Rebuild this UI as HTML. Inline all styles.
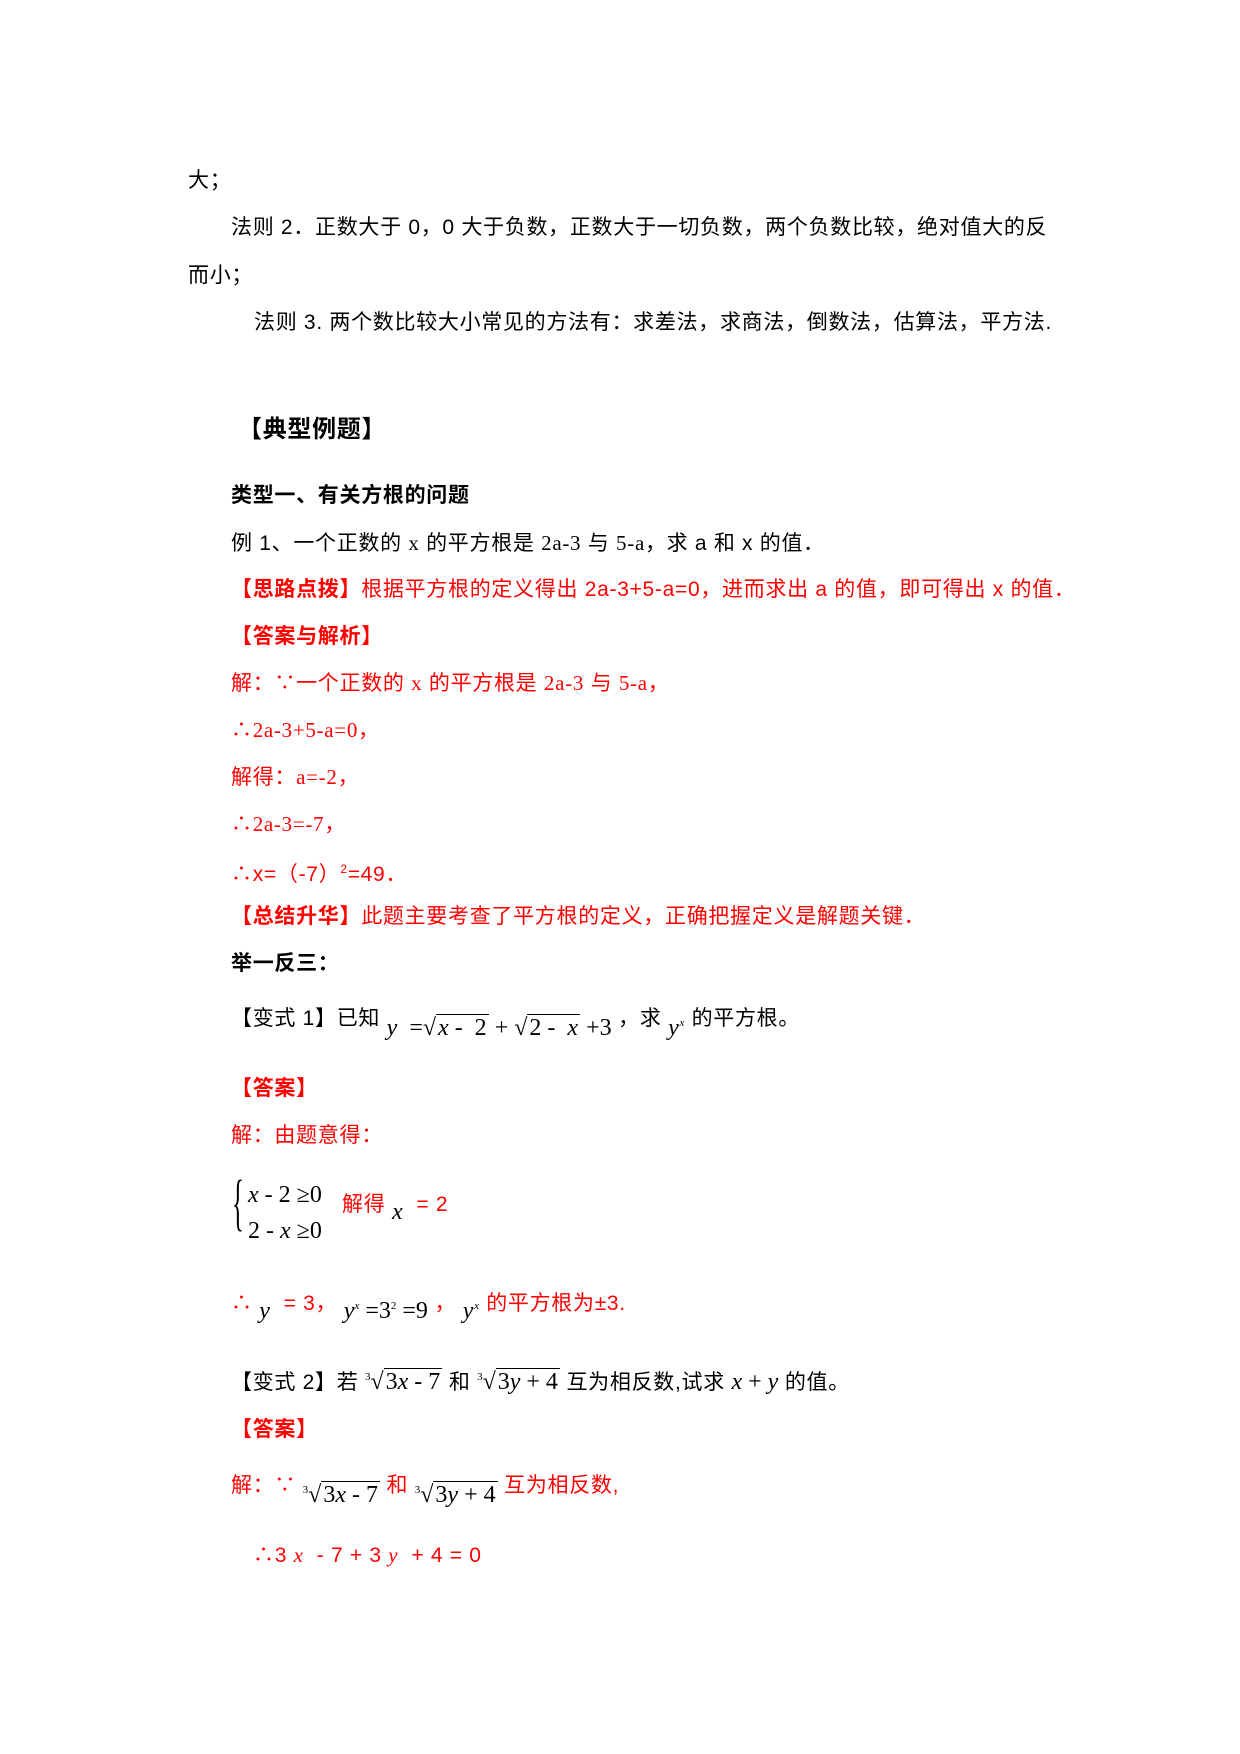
<!DOCTYPE html>
<html><head><meta charset="utf-8"><style>
body{margin:0;width:1240px;height:1754px;background:#fff;position:relative;font-family:"Liberation Sans","Noto Sans CJK SC",sans-serif;font-size:21px;letter-spacing:0.7px;color:#000}
.l{position:absolute;white-space:nowrap;line-height:28px}
.r{color:#f00}
.b{font-weight:bold}
.s{font-family:"Liberation Serif","Noto Sans CJK SC",serif}
.m{font-family:"Liberation Serif",serif;font-size:24px;letter-spacing:0}
.i{font-family:"Liberation Serif",serif;font-style:italic;font-size:24px}
.rt{border-top:1.5px solid #000;padding:0 2px}
</style></head><body>
<div class="l" style="left:188px;top:167px">大；</div>
<div class="l" style="left:231px;top:214px">法则 2．正数大于 0，0 大于负数，正数大于一切负数，两个负数比较，绝对值大的反</div>
<div class="l" style="left:188px;top:262px">而小；</div>
<div class="l" style="left:254px;top:309px">法则 3. 两个数比较大小常见的方法有：求差法，求商法，倒数法，估算法，平方法.</div>
<div class="l b" style="left:238px;top:416px;font-size:24px">【典型例题】</div>
<div class="l b" style="left:231px;top:482px">类型一、有关方根的问题</div>
<div class="l" style="left:231px;top:529px">例 1、一个正数的 <span class="s">x</span> 的平方根是 <span class="s">2a-3</span> 与 <span class="s">5-a</span>，求 a 和 x 的值．</div>
<div class="l r" style="left:231px;top:576px"><b>【思路点拨】</b>根据平方根的定义得出 2a-3+5-a=0，进而求出 a 的值，即可得出 x 的值．</div>
<div class="l r b" style="left:231px;top:623px">【答案与解析】</div>
<div class="l r" style="left:231px;top:669px">解：∵一个正数的 <span class="s">x</span> 的平方根是 <span class="s">2a-3</span> 与 <span class="s">5-a</span>，</div>
<div class="l r" style="left:231px;top:716px">∴<span class="s">2a-3+5-a=0</span>，</div>
<div class="l r" style="left:231px;top:763px">解得：<span class="s">a=-2</span>，</div>
<div class="l r" style="left:231px;top:810px">∴<span class="s">2a-3=-7</span>，</div>
<div class="l r" style="left:231px;top:855px">∴x=（-7）<sup style="font-size:12px">2</sup>=49．</div>
<div class="l r" style="left:231px;top:903px"><b>【总结升华】</b>此题主要考查了平方根的定义，正确把握定义是解题关键．</div>
<div class="l b" style="left:231px;top:950px">举一反三：</div>
<div class="l" style="left:231px;top:999px">【变式 1】已知 <span class="m" style="position:relative;top:10px"><i>y</i> &nbsp;=√<span class="rt"><i>x</i> - &nbsp;2</span> + √<span class="rt">2 - &nbsp;<i>x</i></span> +3</span> ，求 <span class="i" style="position:relative;top:10px">y<sup style="font-size:11px">x</sup></span> 的平方根。</div>
<div class="l r b" style="left:231px;top:1075px">【答案】</div>
<div class="l r" style="left:231px;top:1122px">解：由题意得：</div>
<div class="l s" style="left:232px;top:1172px;font-size:62px;font-weight:100;line-height:62px;transform:scaleX(.4);transform-origin:left">{</div>
<div class="l m" style="left:248px;top:1181px"><i>x</i> - 2 ≥0</div>
<div class="l m" style="left:248px;top:1217px">2 - <i>x</i> ≥0</div>
<div class="l r" style="left:342px;top:1190px">解得 <span class="i" style="color:#000;position:relative;top:8px">x</span> &nbsp;= 2</div>
<div class="l r" style="left:231px;top:1284px">∴ <span class="i" style="color:#000;position:relative;top:8px">y</span> &nbsp;= 3， <span class="m" style="color:#000;position:relative;top:8px"><i>y<sup style="font-size:11px">x</sup></i> =3<sup style="font-size:11px">2</sup> =9</span> ， <span class="i" style="color:#000;position:relative;top:8px">y<sup style="font-size:11px">x</sup></span> 的平方根为±3.</div>
<div class="l" style="left:231px;top:1363px">【变式 2】若 <span class="m"><sup style="font-size:11px">3</sup>√<span class="rt">3<i>x</i> - 7</span></span> 和 <span class="m"><sup style="font-size:11px">3</sup>√<span class="rt">3<i>y</i> + 4</span></span> 互为相反数,试求 <span class="m"><i>x</i> + <i>y</i></span> 的值。</div>
<div class="l r b" style="left:231px;top:1416px">【答案】</div>
<div class="l r" style="left:231px;top:1466px">解：∵ <span class="m" style="color:#000;position:relative;top:10px"><sup style="font-size:11px">3</sup>√<span class="rt">3<i>x</i> - 7</span></span> 和 <span class="m" style="color:#000;position:relative;top:10px"><sup style="font-size:11px">3</sup>√<span class="rt">3<i>y</i> + 4</span></span> 互为相反数,</div>
<div class="l r" style="left:253px;top:1541px">∴3 <i class="s">x</i> &nbsp;- 7 + 3 <i class="s">y</i> &nbsp;+ 4 = 0</div>
</body></html>
